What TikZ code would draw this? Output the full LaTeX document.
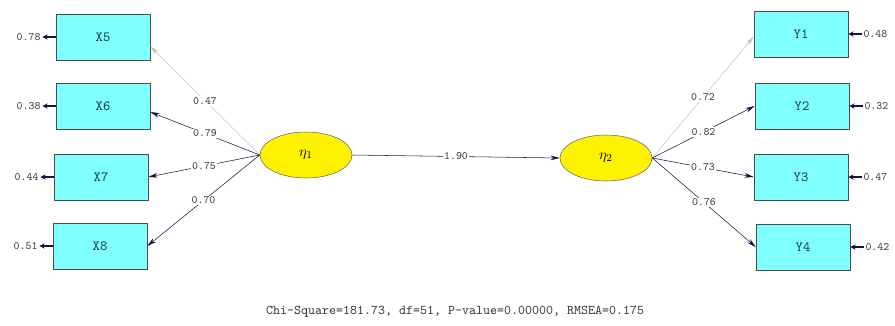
\documentclass[tikz,border=0pt]{standalone}
\usetikzlibrary{arrows.meta,shapes.geometric}
\definecolor{boxcyan}{RGB}{128,255,255}
\definecolor{latyellow}{RGB}{255,242,0}
\definecolor{pathblue}{RGB}{20,20,70}
\definecolor{pathgrey}{RGB}{195,195,195}
\definecolor{boxtext}{RGB}{20,60,70}
\begin{document}
\begin{tikzpicture}[x=0.75pt,y=-0.75pt,
  obs/.style={draw=black!70,fill=boxcyan,minimum width=70.5pt,minimum height=34.5pt,
    font=\ttfamily\fontsize{10.5}{12}\selectfont,text=boxtext},
  lat/.style={ellipse,draw=black!60,fill=latyellow,minimum width=69pt,minimum height=34.5pt,
    font=\fontsize{11}{12}\selectfont},
  lbl/.style={fill=white,inner sep=1pt,font=\ttfamily\fontsize{8.5}{9}\selectfont,text=black!75},
  path/.style={draw=pathblue,-{Stealth[length=7pt,width=3.5pt]}},
  fixed/.style={draw=pathgrey,-{Stealth[length=7pt,width=3.5pt]}},
  err/.style={draw=pathblue,line width=0.9pt,-{Stealth[length=4pt,width=4pt]}}]
\useasboundingbox (0,0) rectangle (895,325);

% observed variables
\node[obs] (x5) at (103,37) {X5};
\node[obs] (x6) at (103,106) {X6};
\node[obs] (x7) at (101,177) {X7};
\node[obs] (x8) at (100,246) {X8};
\node[obs] (y1) at (801,34) {Y1};
\node[obs] (y2) at (802,106) {Y2};
\node[obs] (y3) at (801,177) {Y3};
\node[obs] (y4) at (803,247) {Y4};

% latent variables
\node[lat] (eta1) at (306,155) {$\eta_{1}$};
\node[lat] (eta2) at (606,158) {$\eta_{2}$};

% loadings
\draw[fixed] (eta1.west) -- node[lbl]{0.47} ([yshift=-7pt]x5.east);
\draw[path] (eta1.west) -- node[lbl]{0.79} ([yshift=-4.5pt]x6.east);
\draw[path] (eta1.west) -- node[lbl]{0.75} (x7.east);
\draw[path] (eta1.west) -- node[lbl]{0.70} (x8.east);
\draw[fixed] (eta2.east) -- node[lbl]{0.72} ([yshift=-2pt]y1.west);
\draw[path] (eta2.east) -- node[lbl]{0.82} (y2.west);
\draw[path] (eta2.east) -- node[lbl]{0.73} (y3.west);
\draw[path] (eta2.east) -- node[lbl]{0.76} (y4.west);

% structural path
\draw[path] (eta1.east) -- node[lbl]{1.90} (eta2.west);

% error variances
\coordinate (ex5) at ([xshift=-10pt]x5.west);
\coordinate (ex6) at ([xshift=-10pt]x6.west);
\coordinate (ex7) at ([xshift=-10pt]x7.west);
\coordinate (ex8) at ([xshift=-10pt]x8.west);
\coordinate (ey1) at ([xshift=10pt]y1.east);
\coordinate (ey2) at ([xshift=10pt]y2.east);
\coordinate (ey3) at ([xshift=10pt]y3.east);
\coordinate (ey4) at ([xshift=10pt]y4.east);
\draw[err] (x5.west) -- (ex5) node[lbl,left]{0.78};
\draw[err] (x6.west) -- (ex6) node[lbl,left]{0.38};
\draw[err] (x7.west) -- (ex7) node[lbl,left]{0.44};
\draw[err] (x8.west) -- (ex8) node[lbl,left]{0.51};
\draw[err] (ey1) node[lbl,right]{0.48} -- (y1.east);
\draw[err] (ey2) node[lbl,right]{0.32} -- (y2.east);
\draw[err] (ey3) node[lbl,right]{0.47} -- (y3.east);
\draw[err] (ey4) node[lbl,right]{0.42} -- (y4.east);

% fit statistics
\node[font=\ttfamily\fontsize{10}{11}\selectfont,text=black!80] (fit) at (455,312)
  {Chi-Square=181.73, df=51, P-value=0.00000, RMSEA=0.175};
\end{tikzpicture}
\end{document}
